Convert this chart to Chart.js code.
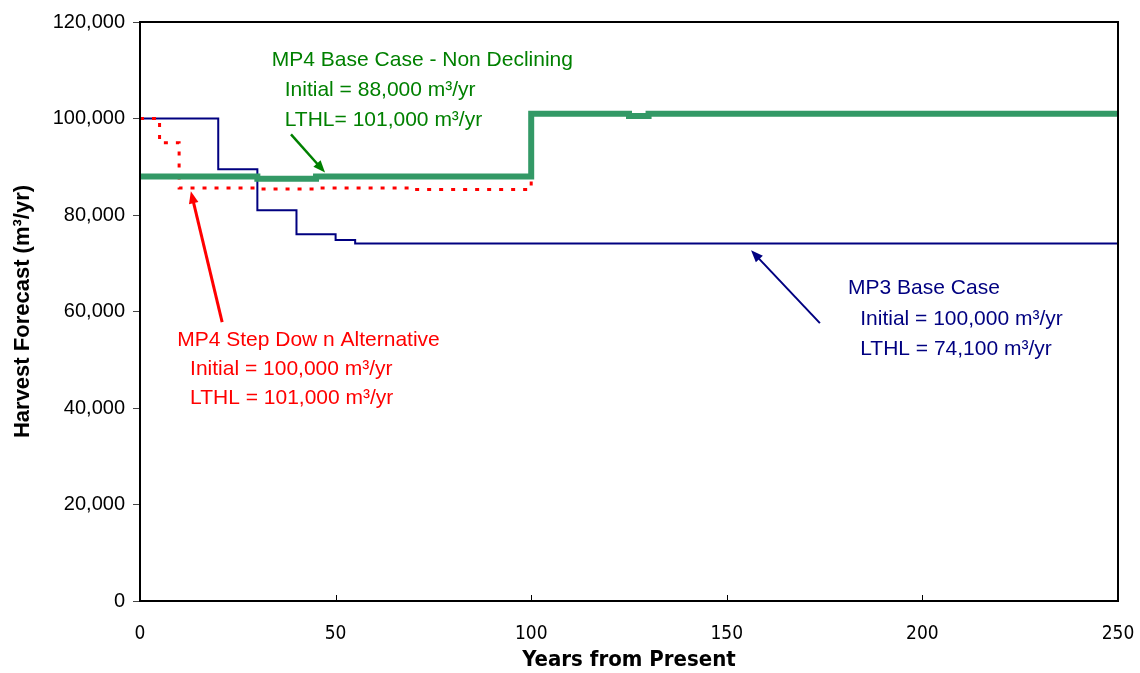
<!DOCTYPE html>
<html>
<head>
<meta charset="utf-8">
<script src="https://cdn.jsdelivr.net/npm/chart.js@4.4.0/dist/chart.umd.min.js"></script>
<style>
  html, body { margin: 0; padding: 0; background: #fff; }
  #wrap { width: 1140px; height: 673px; }
</style>
</head>
<body>
<div id="wrap"><canvas id="harvestChart"></canvas></div>
<script>
// each year starts a level that holds until the next year
const mp3Years = [0, 20, 30, 40, 50, 55, 250];
const mp3Values = [100000, 89500, 81000, 76000, 74800, 74100, 74100];

const mp4BaseYears = [0, 30, 45, 100, 125, 130, 250];
const mp4BaseValues = [88000, 87500, 88000, 101000, 100500, 101000, 101000];

const mp4StepYears = [0, 5, 10, 30, 45, 70, 100, 125, 130, 250];
const mp4StepValues = [100000, 95000, 85600, 85400, 85600, 85300, 101000, 100500, 101000, 101000];

const xTicks = [0, 50, 100, 150, 200, 250];
const yTicks = [0, 20000, 40000, 60000, 80000, 100000, 120000];

function toPoints(xs, ys) {
  return xs.map((x, i) => ({ x: x, y: ys[i] }));
}

// text blocks and arrows, anchored in data units
const notes = [
  {
    color: '#008000', at: [33.7, 112000], indent: 3.3, gap: 6200,
    lines: ['MP4 Base Case - Non Declining', 'Initial = 88,000 m³/yr', 'LTHL= 101,000 m³/yr'],
    arrow: { from: [38.6, 96700], to: [47.3, 88800], width: 2.5 }
  },
  {
    color: '#ff0000', at: [9.5, 54000], indent: 3.3, gap: 6000,
    lines: ['MP4 Step Dow n Alternative', 'Initial = 100,000 m³/yr', 'LTHL = 101,000 m³/yr'],
    arrow: { from: [21, 57800], to: [13, 84900], width: 3 }
  },
  {
    color: '#000080', at: [181, 64800], indent: 3.1, gap: 6300,
    lines: ['MP3 Base Case', 'Initial = 100,000 m³/yr', 'LTHL = 74,100 m³/yr'],
    arrow: { from: [173.8, 57600], to: [156.2, 72700], width: 2 }
  }
];

function drawArrow(ctx, x1, y1, x2, y2, color, width) {
  const head = 13;
  const ang = Math.atan2(y2 - y1, x2 - x1);
  ctx.save();
  ctx.strokeStyle = color;
  ctx.fillStyle = color;
  ctx.lineWidth = width;
  ctx.beginPath();
  ctx.moveTo(x1, y1);
  ctx.lineTo(x2 - Math.cos(ang) * head * 0.7, y2 - Math.sin(ang) * head * 0.7);
  ctx.stroke();
  ctx.beginPath();
  ctx.moveTo(x2, y2);
  ctx.lineTo(x2 - head * Math.cos(ang - 0.38), y2 - head * Math.sin(ang - 0.38));
  ctx.lineTo(x2 - head * Math.cos(ang + 0.38), y2 - head * Math.sin(ang + 0.38));
  ctx.closePath();
  ctx.fill();
  ctx.restore();
}

const notesPlugin = {
  id: 'notes',
  afterDatasetsDraw(chart) {
    const ctx = chart.ctx;
    const sx = chart.scales.x, sy = chart.scales.y;
    notes.forEach(n => {
      ctx.save();
      ctx.font = '21px "Liberation Sans", Arial, sans-serif';
      ctx.fillStyle = n.color;
      ctx.textBaseline = 'middle';
      ctx.textAlign = 'left';
      n.lines.forEach((line, i) => {
        const x = sx.getPixelForValue(n.at[0] + (i > 0 ? n.indent : 0));
        const y = sy.getPixelForValue(n.at[1] - i * n.gap);
        ctx.fillText(line, x, y);
      });
      ctx.restore();
      const a = n.arrow;
      drawArrow(ctx,
        sx.getPixelForValue(a.from[0]), sy.getPixelForValue(a.from[1]),
        sx.getPixelForValue(a.to[0]), sy.getPixelForValue(a.to[1]),
        n.color, a.width);
    });
  }
};

// box round the plot area, x ticks point inward
const framePlugin = {
  id: 'frame',
  afterDraw(chart) {
    const ctx = chart.ctx;
    const a = chart.chartArea;
    ctx.save();
    ctx.strokeStyle = '#000';
    ctx.lineWidth = 1;
    chart.scales.x.ticks.forEach(t => {
      const px = Math.round(chart.scales.x.getPixelForValue(t.value)) + 0.5;
      ctx.beginPath();
      ctx.moveTo(px, a.bottom);
      ctx.lineTo(px, a.bottom - 6);
      ctx.stroke();
    });
    ctx.lineWidth = 2;
    ctx.strokeRect(a.left, a.top, a.right - a.left, a.bottom - a.top);
    ctx.restore();
  }
};

new Chart('harvestChart', {
  type: 'line',
  data: {
    datasets: [{
      label: 'MP4 Base Case - Non Declining',
      data: toPoints(mp4BaseYears, mp4BaseValues),
      borderColor: '#339966',
      borderWidth: 6,
      stepped: true,
      pointRadius: 0
    }, {
      label: 'MP4 Step Down Alternative',
      data: toPoints(mp4StepYears, mp4StepValues),
      borderColor: '#ff0000',
      borderWidth: 3,
      borderDash: [4, 8],
      stepped: true,
      pointRadius: 0
    }, {
      label: 'MP3 Base Case',
      data: toPoints(mp3Years, mp3Values),
      borderColor: '#000080',
      borderWidth: 2,
      stepped: true,
      pointRadius: 0
    }]
  },
  options: {
    responsive: true,
    maintainAspectRatio: false,
    animation: false,
    layout: { padding: { top: 22, right: 22, left: 0, bottom: 0 } },
    plugins: {
      legend: { display: false },
      tooltip: { enabled: false }
    },
    scales: {
      x: {
        type: 'linear',
        min: 0,
        max: 250,
        afterBuildTicks: s => { s.ticks = xTicks.map(v => ({ value: v })); },
        afterFit: s => { s.height = 72; s.paddingLeft = 0; s.paddingRight = 0; },
        grid: { display: false, drawTicks: false },
        border: { display: false },
        ticks: {
          padding: 22,
          color: '#000',
          font: { family: '"Liberation Sans Narrow", "DejaVu Sans Condensed", sans-serif', size: 19 }
        },
        title: {
          display: true,
          text: 'Years from Present',
          color: '#000',
          padding: { top: 0, bottom: 0 },
          font: { family: '"Liberation Sans Narrow", "DejaVu Sans Condensed", sans-serif', size: 22, weight: 'bold' }
        }
      },
      y: {
        min: 0,
        max: 120000,
        afterBuildTicks: s => { s.ticks = yTicks.map(v => ({ value: v })); },
        afterFit: s => { s.width = 140; },
        grid: { drawOnChartArea: false, drawTicks: true, tickLength: 7, color: '#444' },
        border: { display: false },
        ticks: {
          padding: 8,
          color: '#000',
          font: { family: '"Liberation Sans", Arial, sans-serif', size: 20 },
          callback: v => v.toLocaleString('en-US')
        },
        title: {
          display: true,
          text: 'Harvest Forecast (m³/yr)',
          color: '#000',
          padding: { top: 10, bottom: 0 },
          font: { family: '"Liberation Sans", Arial, sans-serif', size: 22, weight: 'bold' }
        }
      }
    }
  },
  plugins: [notesPlugin, framePlugin]
});
</script>
</body>
</html>
